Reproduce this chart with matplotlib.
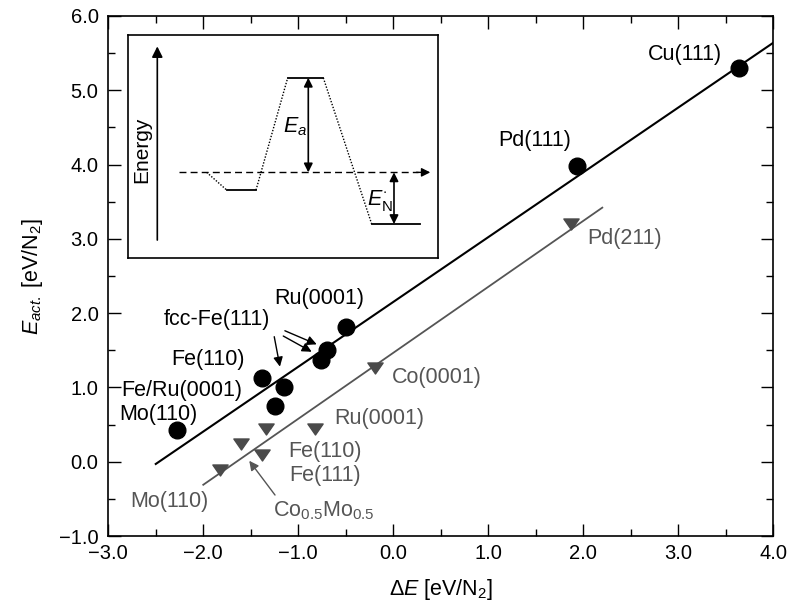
import matplotlib
matplotlib.use('Agg')
import matplotlib.pyplot as plt
from matplotlib.ticker import MultipleLocator, FuncFormatter
from matplotlib.path import Path

plt.rcParams['font.family'] = ['Liberation Sans', 'DejaVu Sans']
plt.rcParams['mathtext.fontset'] = 'custom'
plt.rcParams['mathtext.rm'] = 'Liberation Sans'
plt.rcParams['mathtext.it'] = 'Liberation Sans:italic'
plt.rcParams['mathtext.bf'] = 'Liberation Sans:bold'

# ---------------- data ----------------
# black circles: N2 dissociation on terraces
circ_names = ['Mo(110)', 'Fe/Ru(0001)', 'Fe(110)', 'fcc-Fe(111)', 'Ru(0001)', 'Ru(0001) b', 'Ru(0001) c', 'Pd(111)', 'Cu(111)']
circ_x = [-2.28, -1.24, -1.38, -1.15, -0.76, -0.70, -0.50, 1.93, 3.64]
circ_y = [0.43, 0.75, 1.13, 1.00, 1.37, 1.50, 1.82, 3.98, 5.30]

# grey triangles: steps
tri_names = ['Mo(110)', 'Co0.5Mo0.5', 'Fe(111)', 'Fe(110)', 'Ru(0001)', 'Co(0001)', 'Pd(211)']
tri_x = [-1.82, -1.60, -1.385, -1.34, -0.82, -0.19, 1.87]
tri_y = [-0.11, 0.24, 0.09, 0.44, 0.44, 1.26, 3.20]

# fitted lines (end points)
fit_black_x = [-2.5, 4.0]
fit_black_y = [-0.03, 5.64]
fit_grey_x = [-2.0, 2.2]
fit_grey_y = [-0.31, 3.42]

# labels
black_labels = ['Cu(111)', 'Pd(111)', 'Ru(0001)', 'fcc-Fe(111)', 'Fe(110)', 'Fe/Ru(0001)', 'Mo(110)']
black_lab_x = [3.07, 1.49, -0.78, -1.856, -1.95, -2.227, -2.477]
black_lab_y = [5.48, 4.33, 2.20, 1.92, 1.37, 0.965, 0.63]

grey_labels = ['Pd(211)', 'Co(0001)', 'Ru(0001)', 'Fe(110)', 'Fe(111)', 'Mo(110)', r'Co$_{0.5}$Mo$_{0.5}$']
grey_lab_x = [2.436, 0.453, -0.15, -0.719, -0.719, -2.36, -0.729]
grey_lab_y = [3.007, 1.136, 0.584, 0.135, -0.179, -0.538, -0.66]

GREY = '#555555'
TRI_GREY = '#4a4a4a'
FS = 15.5

fig = plt.figure(figsize=(7.92, 6.05), dpi=100)
ax = fig.add_axes([0.1367, 0.114, 0.8397, 0.8596])

ax.plot(fit_black_x, fit_black_y, color='black', lw=1.5, zorder=2)
ax.plot(fit_grey_x, fit_grey_y, color=GREY, lw=1.3, zorder=2)

ax.plot(circ_x, circ_y, ls='none', marker='o', ms=12, color='black', zorder=3)
tri_marker = Path([(-1, 0.72), (1, 0.72), (0, -0.72), (-1, 0.72)],
                  [Path.MOVETO, Path.LINETO, Path.LINETO, Path.CLOSEPOLY])
ax.plot(tri_x, tri_y, ls='none', marker=tri_marker, ms=11, color=TRI_GREY, zorder=3)

for t, x, y in zip(black_labels, black_lab_x, black_lab_y):
    ax.text(x, y, t, ha='center', va='center', fontsize=FS, color='black')
for t, x, y in zip(grey_labels, grey_lab_x, grey_lab_y):
    ax.text(x, y, t, ha='center', va='center', fontsize=FS, color=GREY)

# arrows
arr_k = dict(arrowstyle='-|>', color='black', lw=1.0, mutation_scale=14, shrinkA=0, shrinkB=0)
ax.annotate('', xy=(-1.193, 1.28), xytext=(-1.253, 1.683), arrowprops=arr_k)
ax.annotate('', xy=(-0.806, 1.58), xytext=(-1.141, 1.763), arrowprops=arr_k)
ax.annotate('', xy=(-0.859, 1.48), xytext=(-1.158, 1.692), arrowprops=arr_k)
arr_g = dict(arrowstyle='-|>', color=GREY, lw=1.0, mutation_scale=14, shrinkA=0, shrinkB=0)
ax.annotate('', xy=(-1.516, 0.013), xytext=(-1.245, -0.448), arrowprops=arr_g)

ax.set_xlim(-3.0, 4.0)
ax.set_ylim(-1.0, 6.0)
ax.xaxis.set_major_locator(MultipleLocator(1.0))
ax.xaxis.set_minor_locator(MultipleLocator(0.5))
ax.yaxis.set_major_locator(MultipleLocator(1.0))
ax.yaxis.set_minor_locator(MultipleLocator(0.5))
fmt = FuncFormatter(lambda v, p: f"{v:.1f}".replace('-', '\u2212'))
ax.xaxis.set_major_formatter(fmt)
ax.yaxis.set_major_formatter(fmt)
ax.tick_params(which='both', direction='in', top=True, right=True, labelsize=14.5, width=1.0)
ax.tick_params(which='major', length=9)
ax.tick_params(which='minor', length=5)
ax.tick_params(axis='x', which='major', pad=5.5)
ax.tick_params(axis='y', which='major', pad=7)
for s in ax.spines.values():
    s.set_linewidth(1.2)

ax.set_xlabel(r'$\Delta E$ [eV/N$_2$]', fontsize=FS, labelpad=10)
ax.set_ylabel(r'$E_{act.}$ [eV/N$_2$]', fontsize=FS, labelpad=10)

# ---------------- inset ----------------
ins = fig.add_axes([0.162, 0.573, 0.3914, 0.369])
ins.set_xlim(0, 310)
ins.set_ylim(0, 223.3)
ins.set_xticks([])
ins.set_yticks([])
for s in ins.spines.values():
    s.set_linewidth(1.2)

ins.annotate('', xy=(29, 212), xytext=(29, 18.3),
             arrowprops=dict(arrowstyle='-|>', color='black', lw=1.2, mutation_scale=16, shrinkA=0, shrinkB=0))
ins.text(13.4, 108.3, 'Energy', rotation=90, ha='center', va='center', fontsize=15)

# reference level (dashed with arrow)
ins.plot([51, 290], [86, 86], color='black', lw=1.0, ls=(0, (5, 3)))
ins.annotate('', xy=(302, 86), xytext=(288, 86),
             arrowprops=dict(arrowstyle='-|>', color='black', lw=1.0, mutation_scale=13, shrinkA=0, shrinkB=0))

# energy profile
dot_x = [[78.4, 98.4], [127.7, 159.4], [195.0, 243.4]]
dot_y = [[86, 68.3], [68.3, 180.6], [180.6, 34.3]]
flat_x = [[98.4, 127.7], [159.4, 195.0], [243.4, 291.7]]
flat_y = [[68.3, 68.3], [180.6, 180.6], [34.3, 34.3]]
for xs, ys in zip(dot_x, dot_y):
    ins.plot(xs, ys, color='black', lw=1.0, ls=(0, (1, 1.2)))
for xs, ys in zip(flat_x, flat_y):
    ins.plot(xs, ys, color='black', lw=1.3)

dbl = dict(arrowstyle='<|-|>', color='black', lw=1.2, mutation_scale=13, shrinkA=0, shrinkB=0)
ins.annotate('', xy=(180, 180.6), xytext=(180, 86), arrowprops=dbl)
ins.annotate('', xy=(265.7, 86), xytext=(265.7, 34.3), arrowprops=dbl)
ins.text(166.5, 131.6, r'$E_a$', ha='center', va='center', fontsize=FS)
ins.text(252.0, 58.3, r'$E^{\cdot}_{\mathrm{N}}$', ha='center', va='center', fontsize=FS)

fig.savefig('out.png', dpi=100)
